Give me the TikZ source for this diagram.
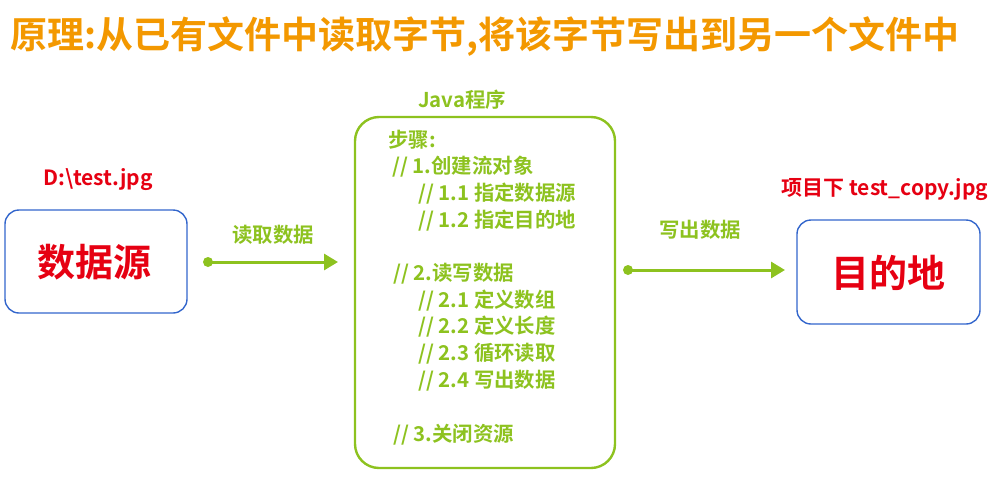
\documentclass[tikz,border=0pt]{standalone}
\usepackage{fontspec}
\setmainfont{Noto Sans CJK SC}
\newfontfamily\cjkbold{Noto Sans CJK SC Bold}
\definecolor{titleorange}{HTML}{F39800}
\definecolor{stepgreen}{HTML}{8DC21F}
\definecolor{srcred}{HTML}{E60012}
\definecolor{boxblue}{HTML}{3366CC}
\tikzset{
	endbox/.style={draw=boxblue, line width=0.7pt, rounded corners=7pt},
	bigred/.style={text=srcred, font=\cjkbold\fontsize{19}{22}\selectfont},
	smallred/.style={text=srcred, font=\cjkbold\fontsize{10.5}{12}\selectfont},
	greenlbl/.style={text=stepgreen, font=\cjkbold\fontsize{10.2}{12}\selectfont},
	stepline/.style={text=stepgreen, font=\cjkbold\fontsize{10.2}{12}\selectfont, anchor=west, inner sep=0pt},
	flow/.style={draw=stepgreen, line width=1.5pt, -{Triangle[length=7pt,width=8pt]}},
}
\usetikzlibrary{arrows.meta}
\begin{document}
\begin{tikzpicture}[x=0.5pt,y=-0.5pt]
	\useasboundingbox (0,0) rectangle (994,482);
	% title
	\node[anchor=west, inner sep=0pt, text=titleorange, font=\cjkbold\fontsize{18.5}{20}\selectfont] (title) at (10,37) {原理:从已有文件中读取字节,将该字节写出到另一个文件中};
	% source
	\draw[endbox] (5,210) rectangle (187,313);
	\node[bigred] (src) at (94,262) {数据源};
	\node[smallred] (srcfile) at (98,180) {D:\textbackslash test.jpg};
	% program
	\draw[draw=stepgreen, line width=1.2pt, rounded corners=12pt] (355,117) rectangle (615,468);
	\node[greenlbl] (prog) at (462,100) {Java程序};
	\foreach \x/\y/\t in {388/140/步骤:, 392/167/{// 1.创建流对象}, 418/194/{// 1.1 指定数据源}, 418/221/{// 1.2 指定目的地},
		393/274/{// 2.读写数据}, 418/301/{// 2.1 定义数组}, 418/327/{// 2.2 定义长度}, 418/354/{// 2.3 循环读取}, 418/381/{// 2.4 写出数据},
		393/435/{// 3.关闭资源}}
		\node[stepline] at (\x,\y) {\t};
	% destination
	\draw[endbox] (797,220) rectangle (980,324);
	\node[bigred] (dst) at (888,273) {目的地};
	\node[smallred] (dstfile) at (885,190) {项目下 test\_copy.jpg};
	% arrows
	\coordinate (rd0) at (208,262);
	\coordinate (rd1) at (338,262);
	\coordinate (wr0) at (628,270);
	\coordinate (wr1) at (785,270);
	\fill[stepgreen] (rd0) circle (5);
	\draw[flow] (rd0) -- (rd1);
	\fill[stepgreen] (wr0) circle (5);
	\draw[flow] (wr0) -- (wr1);
	\node[greenlbl] (rdlbl) at (273,235) {读取数据};
	\node[greenlbl] (wrlbl) at (700,230) {写出数据};
\end{tikzpicture}
\end{document}
